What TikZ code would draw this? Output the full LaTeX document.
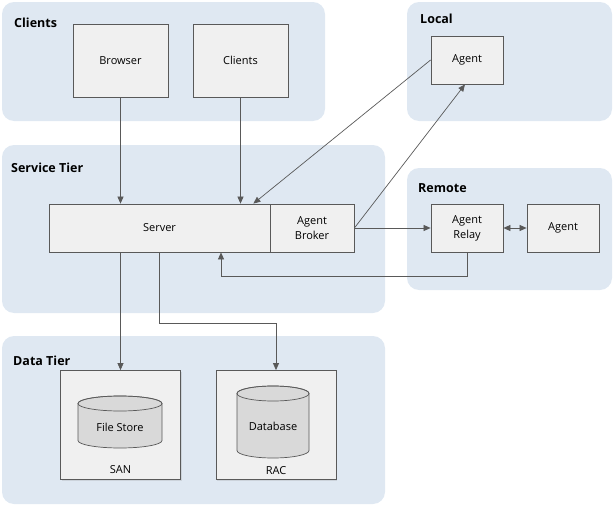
\documentclass[tikz,border=0pt]{standalone}
\usepackage{fontspec}
\setmainfont{Open Sans}
\usetikzlibrary{arrows.meta,shadows}
\definecolor{tierblue}{RGB}{223,232,242}
\definecolor{boxgray}{RGB}{240,240,240}
\definecolor{linegray}{RGB}{89,89,89}
\definecolor{diskgray}{RGB}{217,217,217}

\begin{document}
\begin{tikzpicture}[x=1pt,y=-1pt,
  tier/.style={fill=tierblue, rounded corners=12pt},
  tiername/.style={anchor=west, inner sep=0pt, font=\bfseries\fontsize{12.5}{14}\selectfont},
  box/.style={draw=linegray, fill=boxgray, line width=0.8pt, inner sep=0pt, align=center,
    drop shadow={shadow xshift=1pt, shadow yshift=-1pt, opacity=.2},
    font=\fontsize{11}{15}\selectfont},
  plain/.style={inner sep=0pt, font=\fontsize{11}{15}\selectfont},
  link/.style={draw=linegray, line width=0.7pt, -{Triangle[length=7pt,width=6pt]}}]
  \useasboundingbox (0,0) rectangle (614,506);

  % tiers
  \fill[tier] (2,2) rectangle (325,121);
  \fill[tier] (407,2) rectangle (612,121);
  \fill[tier] (2,145) rectangle (385,313);
  \fill[tier] (407,168) rectangle (612,290);
  \fill[tier] (2,336) rectangle (385,504);

  \node[tiername] (clientstier) at (14,23) {Clients};
  \node[tiername] (localtier) at (420,19) {Local};
  \node[tiername] (servicetier) at (11,168) {Service Tier};
  \node[tiername] (remotetier) at (418,188) {Remote};
  \node[tiername] (datatier) at (13,361) {Data Tier};

  % boxes
  \node[box, minimum width=95pt, minimum height=73pt] (browser) at (120.5,60.5) {Browser};
  \node[box, minimum width=95pt, minimum height=73pt] (clients) at (240.5,60.5) {Clients};
  \node[box, minimum width=72pt, minimum height=48pt] (lagent) at (467,60) {Agent};
  \node[box, minimum width=221pt, minimum height=48pt] (server) at (159.5,228) {Server};
  \node[box, minimum width=84pt, minimum height=48pt] (broker) at (312,228) {Agent\\Broker};
  \node[box, minimum width=72pt, minimum height=48pt] (relay) at (467,228) {Agent\\Relay};
  \node[box, minimum width=72pt, minimum height=48pt] (ragent) at (563,228) {Agent};
  \node[box, minimum width=120pt, minimum height=109pt] (san) at (120.5,425) {};
  \node[box, minimum width=120pt, minimum height=109pt] (rac) at (276,425) {};

  % disks
  \filldraw[draw=linegray, fill=diskgray, line width=0.7pt] (78,403.5) -- (78,440.5)
    arc[start angle=180, end angle=360, x radius=42pt, y radius=7.5pt] -- (162,403.5)
    arc[start angle=0, end angle=180, x radius=42pt, y radius=7.5pt];
  \draw[linegray, line width=0.7pt] (120,403.5) ellipse[x radius=42pt, y radius=7.5pt];
  \filldraw[draw=linegray, fill=diskgray, line width=0.7pt] (237,393.5) -- (237,450.5)
    arc[start angle=180, end angle=360, x radius=36pt, y radius=7.5pt] -- (309,393.5)
    arc[start angle=0, end angle=180, x radius=36pt, y radius=7.5pt];
  \draw[linegray, line width=0.7pt] (273,393.5) ellipse[x radius=36pt, y radius=7.5pt];
  \node[plain] (filestore) at (120,427) {File Store};
  \node[plain] (database) at (273,426) {Database};
  \node[plain] (sanname) at (120.5,470) {SAN};
  \node[plain] (racname) at (276,471) {RAC};

  % links
  \draw[link] (browser.south) -- (browser.south |- server.north);
  \draw[link] (clients.south) -- (clients.south |- server.north);
  \draw[link] (lagent.west) -- ([xshift=-17pt]server.north east);
  \draw[link] (broker.east) -- ([xshift=-2pt]lagent.south);
  \draw[link] (broker.east) -- (relay.west);
  \draw[link, {Triangle[length=7pt,width=6pt]}-{Triangle[length=7pt,width=6pt]}] (relay.east) -- (ragent.west);
  \draw[link] (relay.south) -- ++(0,24) -| ([xshift=61.5pt]server.south);
  \draw[link] (san.north |- server.south) -- (san.north);
  \draw[link] (server.south) -- ++(0,71) -| (rac.north);

\end{tikzpicture}
\end{document}
